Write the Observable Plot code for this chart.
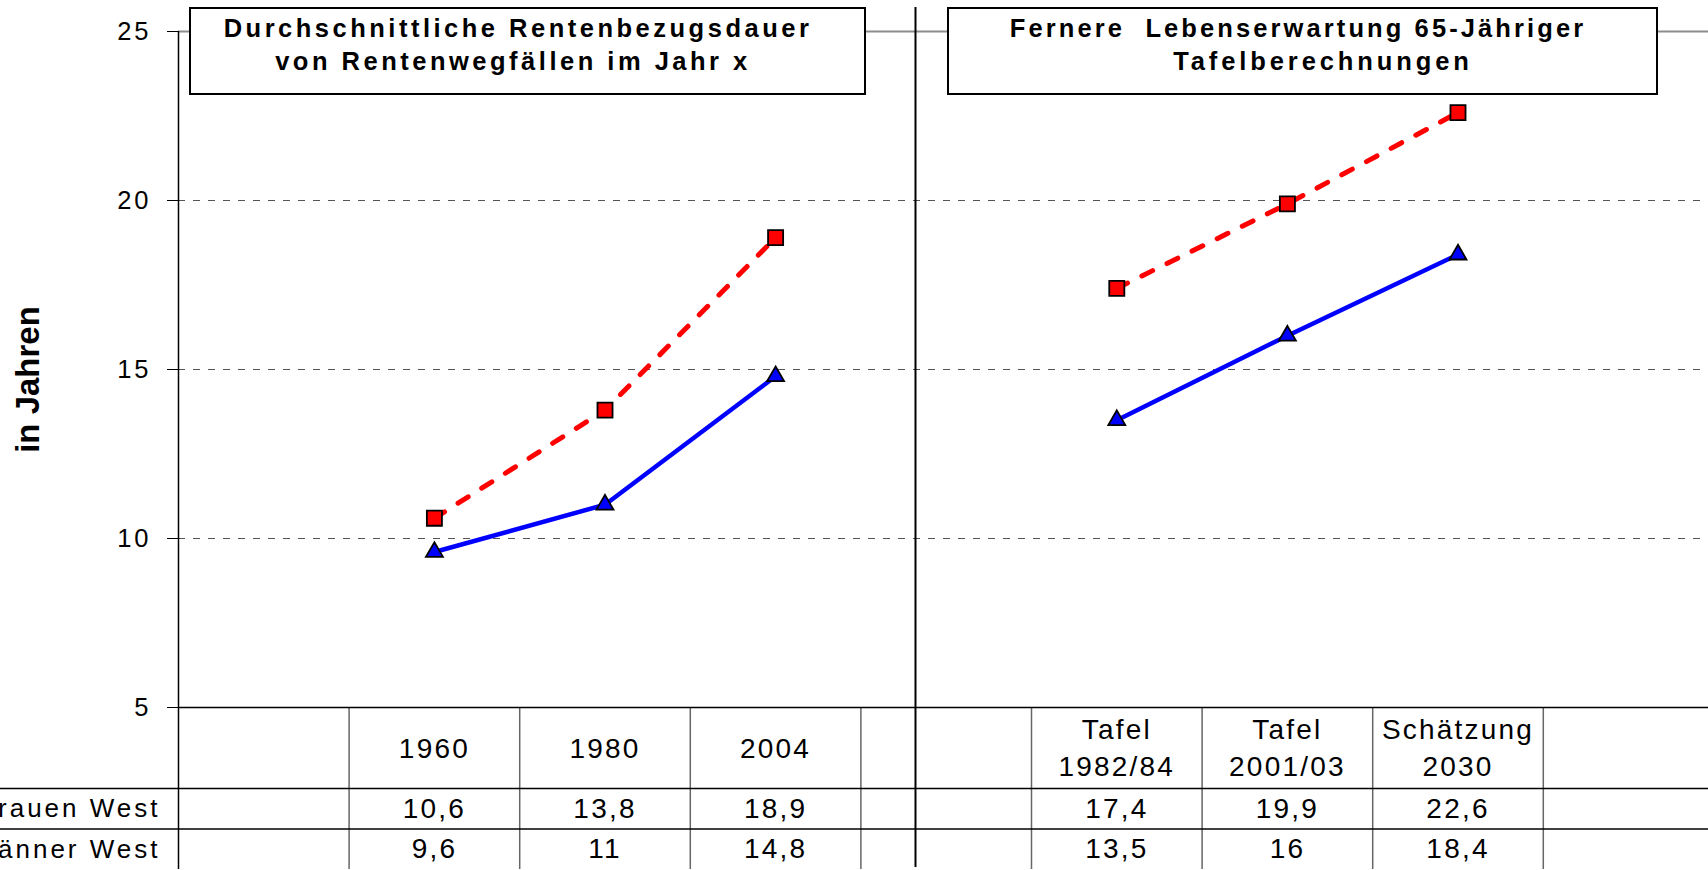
<!DOCTYPE html>
<html>
<head>
<meta charset="utf-8">
<script src="https://cdn.jsdelivr.net/npm/d3@7"></script>
<script src="https://cdn.jsdelivr.net/npm/@observablehq/plot@0.6"></script>
<style>
html, body { margin: 0; padding: 0; background: #fff; }
#wrap { position: relative; width: 1708px; height: 870px; overflow: hidden; font-family: "Liberation Sans", Arial, sans-serif; background: #fff; }
.layer { position: absolute; left: 0; }
.layer svg { overflow: visible; display: block; }
#layerA g[aria-label="y-axis tick label"] text { letter-spacing: 3px; }
#layerB text { letter-spacing: 2.2px; }
#layerB text.rowlabel { letter-spacing: 3px; }
.tbox { position: absolute; top: 7px; height: 88px; box-sizing: border-box; border: 2px solid #000; background: #fff;
  font-weight: bold; font-size: 25.5px; letter-spacing: 3.5px; line-height: 33px; color: #000; white-space: pre; padding-top: 3px; }
.tbox div { text-align: center; position: relative; }
</style>
</head>
<body>
<div id="wrap"></div>
<script>
// ---- data ----
const slots = ["", "1960", "1980", "2004", "", "Tafel\n1982/84", "Tafel\n2001/03", "Schätzung\n2030", ""];
const frauenWest = [null, 10.6, 13.8, 18.9, null, 17.4, 19.9, 22.6, null];
const maennerWest = [null, 9.6, 11, 14.8, null, 13.5, 16, 18.4, null];
const seriesNames = ["Frauen West", "Männer West"];
const yTicks = [5, 10, 15, 20, 25];
const gridValues = [10, 15, 20];
const topLine = [25];
const yLabel = "in Jahren";
const panelTitles = [
  ["Durchschnittliche Rentenbezugsdauer", "von Rentenwegfällen im Jahr x"],
  ["Fernere  Lebenserwartung 65-Jähriger", "Tafelberechnungen"]
];

// ---- layout ----
const W = 1708, H = 870;
const left = 178, colW = 170.6;
const xRange = [left, left + colW * slots.length];
const dividerX = 4.32;          // panel separator, in column units
const labelStart = -left / colW; // row-label column reaches the left edge

const rows = slots.map((s, i) => ({i, x: i + 0.5, label: s, f: frauenWest[i], m: maennerWest[i]}));
const fmt = v => v == null ? "" : String(v).replace(".", ",");
const font = "Liberation Sans, Arial, sans-serif";

const wrap = document.getElementById("wrap");

// ---- chart ----
const A = Plot.plot({
  width: W, height: H,
  marginLeft: left, marginRight: 0, marginTop: 31, marginBottom: 163,
  x: {type: "linear", domain: [0, slots.length], range: xRange, axis: null},
  y: {type: "linear", domain: [5, 25], axis: null},
  style: {fontFamily: font, fontSize: "25px", color: "#000", background: "transparent", overflow: "visible"},
  marks: [
    Plot.ruleY(gridValues, {stroke: "#555", strokeWidth: 1, strokeDasharray: "7,8"}),
    Plot.ruleY(topLine, {stroke: "#8c8c8c", strokeWidth: 2}),
    Plot.axisY({ticks: yTicks, tickSize: 11, tickPadding: 16, label: null, fontSize: 25.5, tickFormat: d => String(d)}),
    Plot.ruleX([0], {y1: 5, y2: 25, stroke: "#000", strokeWidth: 1.5}),
    Plot.ruleX([dividerX], {y1: 5, y2: 25.71, stroke: "#000", strokeWidth: 2}),
    Plot.line(rows, {x: "x", y: "f", stroke: "#ff0000", strokeWidth: 5, strokeDasharray: "12,16"}),
    Plot.line(rows, {x: "x", y: "m", stroke: "#0000ff", strokeWidth: 4.5}),
    Plot.dot(rows, {x: "x", y: "f", symbol: "square", r: 8.5, fill: "#ff0000", stroke: "#000", strokeWidth: 1.8}),
    Plot.dot(rows, {x: "x", y: "m", symbol: "triangle", r: 6.3, fill: "#0000ff", stroke: "#000", strokeWidth: 1.8}),
    Plot.text([yLabel], {frameAnchor: "left", dx: -150, dy: 10, rotate: -90, fontSize: 33, fontWeight: "bold", textAnchor: "middle"})
  ]
});
const layerA = document.createElement("div");
layerA.className = "layer"; layerA.id = "layerA"; layerA.style.top = "0px";
layerA.appendChild(A);
wrap.appendChild(layerA);

// ---- data table ----
const edges = d3.range(0, slots.length);
const B = Plot.plot({
  width: W, height: 164,
  marginLeft: left, marginRight: 0, marginTop: 1, marginBottom: 1,
  x: {type: "linear", domain: [0, slots.length], range: xRange, axis: null},
  y: {type: "linear", domain: [0, 4], range: [1, 163], axis: null},
  style: {fontFamily: font, fontSize: "28px", color: "#000", background: "transparent", overflow: "visible"},
  marks: [
    Plot.ruleX(edges.filter(e => e > 0), {y1: 0, y2: 4, stroke: "#666", strokeWidth: 1.5}),
    Plot.ruleX([0], {y1: 0, y2: 4, stroke: "#000", strokeWidth: 1.5}),
    Plot.ruleX([dividerX], {y1: 0, y2: 3.95, stroke: "#000", strokeWidth: 2}),
    Plot.ruleY([0], {x1: 0, x2: slots.length, stroke: "#000", strokeWidth: 1.5}),
    Plot.ruleY([2, 3], {x1: labelStart, x2: slots.length, stroke: "#000", strokeWidth: 1.5}),
    Plot.text(rows, {x: "x", y: () => 1, text: "label", fontSize: 28, lineHeight: 1.32, dy: -2}),
    Plot.text(rows, {x: "x", y: () => 2.5, text: d => fmt(d.f), fontSize: 28}),
    Plot.text(rows, {x: "x", y: () => 3.5, text: d => fmt(d.m), fontSize: 28}),
    Plot.text(seriesNames, {x: () => 0, y: (d, i) => 2.5 + i, text: d => d, textAnchor: "end", dx: -18, fontSize: 26})
  ]
});
d3.select(B).selectAll("text")
  .filter(function () { return seriesNames.includes(this.textContent); })
  .classed("rowlabel", true)
  .style("letter-spacing", "3px");
const layerB = document.createElement("div");
layerB.className = "layer"; layerB.id = "layerB"; layerB.style.top = "706px";
layerB.appendChild(B);
wrap.appendChild(layerB);

// ---- panel title boxes ----
const boxes = [
  {left: 189, width: 677, shifts: [-9.5, -14.5], ls: [3.5, 3.5]},
  {left: 947, width: 711, shifts: [-4.5, 20.5], ls: [3.1, 3.9]}
];
panelTitles.forEach((lines, k) => {
  const b = document.createElement("div");
  b.className = "tbox";
  b.style.left = boxes[k].left + "px";
  b.style.width = boxes[k].width + "px";
  lines.forEach((t, j) => {
    const l = document.createElement("div");
    l.textContent = t;
    l.style.left = boxes[k].shifts[j] + "px";
    l.style.letterSpacing = boxes[k].ls[j] + "px";
    b.appendChild(l);
  });
  wrap.appendChild(b);
});
</script>
</body>
</html>
